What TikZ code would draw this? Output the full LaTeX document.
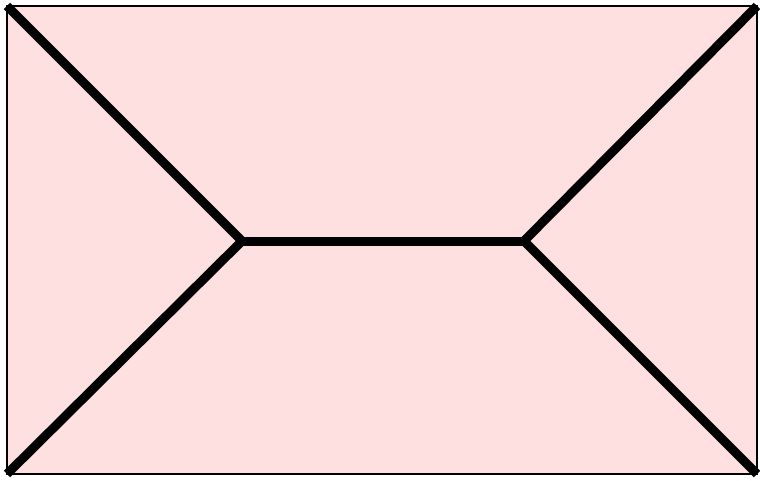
\documentclass[tikz,border=0pt]{standalone}
\definecolor{pinkfill}{HTML}{FFE0E0}
\tikzset{edge/.style={line width=9pt, black, line join=miter}, frame/.style={draw=black, line width=1.5pt, fill=pinkfill}}
\begin{document}
\begin{tikzpicture}[x=1pt,y=-1pt]
\useasboundingbox (0,0) rectangle (760,481);
\draw[frame] (7,6) rectangle (757,474);
\coordinate (tl) at (7,6);
\coordinate (bl) at (7,474);
\coordinate (tr) at (757,6);
\coordinate (br) at (757,474);
\coordinate (a) at (242,241);
\coordinate (b) at (524,241);
\draw[edge] (tl) -- (a) -- (bl);
\draw[edge] (a) -- (b);
\draw[edge] (tr) -- (b) -- (br);
\end{tikzpicture}
\end{document}
